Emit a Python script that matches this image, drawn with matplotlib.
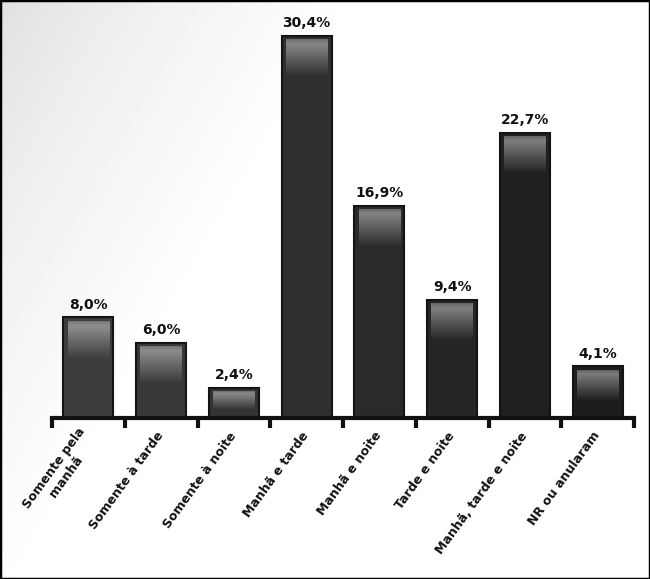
import numpy as np
import matplotlib
matplotlib.use("Agg")
import matplotlib.pyplot as plt
from matplotlib.patches import Rectangle

# dados
categorias = ["Somente pela\nmanhã", "Somente à tarde", "Somente à noite", "Manhã e tarde",
              "Manhã e noite", "Tarde e noite", "Manhã, tarde e noite", "NR ou anularam"]
percentuais = [8.0, 6.0, 2.4, 30.4, 16.9, 9.4, 22.7, 4.1]
rotulos = ["8,0%", "6,0%", "2,4%", "30,4%", "16,9%", "9,4%", "22,7%", "4,1%"]

plt.rcParams['font.family'] = ['DejaVu Sans']

fig = plt.figure(figsize=(6.5, 5.79), dpi=100)

# fundo com degradê cinza no canto superior esquerdo
bg = fig.add_axes([0, 0, 1, 1], zorder=-1)
yy, xx = np.mgrid[0:579, 0:650]
t = np.clip(xx / 360 + yy / 620, 0, 1)
grad = 0.87 + 0.13 * t ** 0.7
bg.imshow(grad, cmap='gray', vmin=0, vmax=1, aspect='auto', extent=[0, 1, 0, 1])
bg.set_axis_off()

ax = fig.add_axes([0.08, 0.278, 0.8954, 0.695])
ax.set_facecolor('none')

n = len(percentuais)
x = np.arange(n)
cores = [plt.cm.gray(0.24 - 0.13 * i / (n - 1)) for i in range(n)]
barras = ax.bar(x, percentuais, width=0.69, color=cores, edgecolor='#141414', linewidth=1.5, zorder=2)

# brilho no topo de cada barra
brilho = np.zeros((64, 2, 4))
brilho[..., :3] = 1.0
brilho[..., 3] = np.concatenate([np.linspace(0.3, 0.42, 8), np.linspace(0.42, 0.0, 56)])[:, None]
dx, dy = 0.06, 0.3
for b, rot in zip(barras, rotulos):
    topo = b.get_height()
    hh = min(3.0, 0.6 * topo)
    ax.imshow(brilho, extent=[b.get_x() + dx, b.get_x() + b.get_width() - dx, topo - dy - hh, topo - dy],
              aspect='auto', zorder=3, interpolation='bilinear')
    ax.annotate(rot, xy=(b.get_x() + b.get_width() / 2, topo),
                xytext=(0, 4), textcoords='offset points', ha='center', va='bottom',
                fontsize=10, fontweight='bold', color='#111111')

ax.set_xlim(-0.5, n - 0.5)
ax.set_ylim(0, 32)

for s in ['top', 'right', 'left']:
    ax.spines[s].set_visible(False)
ax.spines['bottom'].set_linewidth(3)
ax.spines['bottom'].set_color('#111111')
ax.spines['bottom'].set_zorder(4)

ax.set_yticks([])
ax.set_xticks(x)
ax.set_xticks(np.arange(-0.5, n, 1.0), minor=True)
ax.tick_params(axis='x', which='major', length=0, pad=11)
ax.tick_params(axis='x', which='minor', length=7, width=3, color='#111111', direction='out')
ax.set_xticklabels(categorias, rotation=54, ha='right', va='center', rotation_mode='anchor',
                   fontsize=9, fontweight='bold', color='#111111', multialignment='center')
for lab in ax.get_xticklabels():
    lab.set_x(lab.get_position()[0])

# moldura
fig.patches.append(Rectangle((0, 0), 1, 1, transform=fig.transFigure, fill=False,
                             edgecolor='black', linewidth=2.5))

fig.savefig("out.png", dpi=100)
